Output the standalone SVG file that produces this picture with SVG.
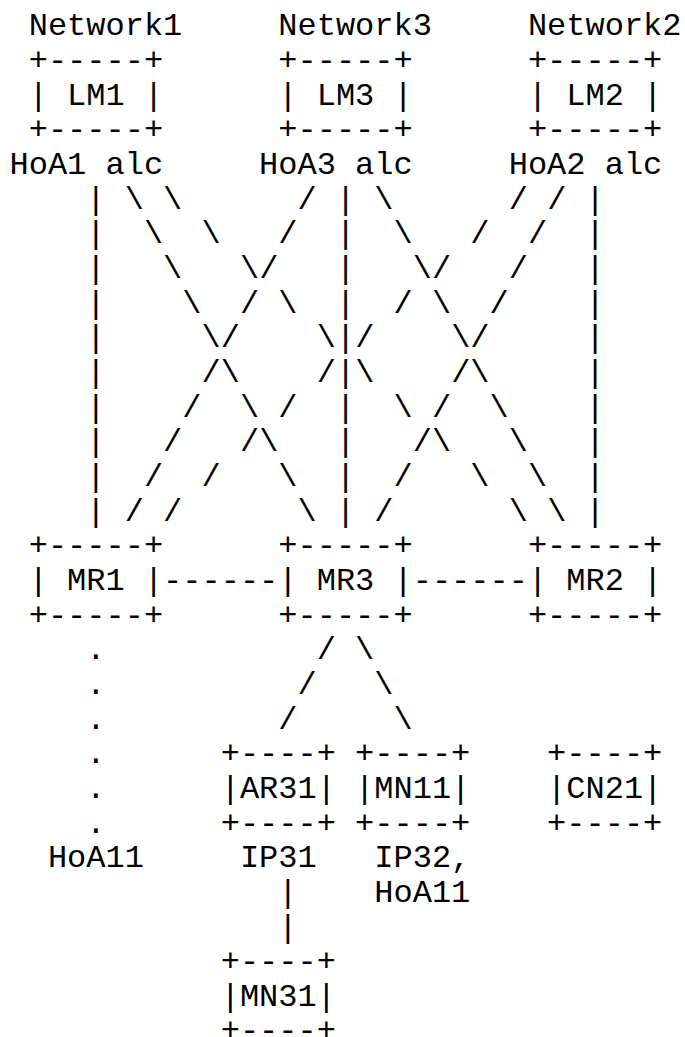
<svg xmlns="http://www.w3.org/2000/svg" width="685" height="1037" viewBox="0 0 685 1037">
<style>
text { font-family: "Liberation Mono", "DejaVu Sans Mono", monospace; font-size: 32px; fill: #000; white-space: pre; }
</style>
<rect x="0" y="0" width="685" height="1037" fill="#fff"/>
<g id="LM1">
<text x="28.7" y="35.3">Network1</text>
<text x="28.7" y="70">+-----+</text>
<text x="28.7" y="104.6" xml:space="preserve">| LM1 |</text>
<text x="28.7" y="139.3">+-----+</text>
<text x="9.5" y="174" xml:space="preserve">HoA1 alc</text>
</g>
<g id="LM3">
<text x="278.3" y="35.3">Network3</text>
<text x="278.3" y="70">+-----+</text>
<text x="278.3" y="104.6" xml:space="preserve">| LM3 |</text>
<text x="278.3" y="139.3">+-----+</text>
<text x="259.1" y="174" xml:space="preserve">HoA3 alc</text>
</g>
<g id="LM2">
<text x="527.9" y="35.3">Network2</text>
<text x="527.9" y="70">+-----+</text>
<text x="527.9" y="104.6" xml:space="preserve">| LM2 |</text>
<text x="527.9" y="139.3">+-----+</text>
<text x="508.7" y="174" xml:space="preserve">HoA2 alc</text>
</g>
<g id="MR1">
<text x="28.7" y="555.4">+-----+</text>
<text x="28.7" y="590" xml:space="preserve">| MR1 |</text>
<text x="28.7" y="624.7">+-----+</text>
</g>
<g id="MR3">
<text x="278.3" y="555.4">+-----+</text>
<text x="278.3" y="590" xml:space="preserve">| MR3 |</text>
<text x="278.3" y="624.7">+-----+</text>
</g>
<g id="MR2">
<text x="527.9" y="555.4">+-----+</text>
<text x="527.9" y="590" xml:space="preserve">| MR2 |</text>
<text x="527.9" y="624.7">+-----+</text>
</g>
<g id="AR31">
<text x="220.7" y="763.4">+----+</text>
<text x="220.7" y="798">|AR31|</text>
<text x="220.7" y="832.7">+----+</text>
<text x="239.9" y="867.4">IP31</text>
</g>
<g id="MN11">
<text x="355.1" y="763.4">+----+</text>
<text x="355.1" y="798">|MN11|</text>
<text x="355.1" y="832.7">+----+</text>
<text x="374.3" y="867.4">IP32,</text>
<text x="374.3" y="902">HoA11</text>
</g>
<g id="CN21">
<text x="547.1" y="763.4">+----+</text>
<text x="547.1" y="798">|CN21|</text>
<text x="547.1" y="832.7">+----+</text>
</g>
<g id="MN31">
<text x="220.7" y="971.4">+----+</text>
<text x="220.7" y="1006">|MN31|</text>
<text x="220.7" y="1039.5">+----+</text>
</g>
<g id="HoA11">
<text x="47.9" y="867.4">HoA11</text>
</g>
<g id="connectors">
<text x="86.3" y="208.7" xml:space="preserve">| \ \      / | \      / / |</text>
<text x="86.3" y="243.3" xml:space="preserve">|  \  \   /  |  \   /  /  |</text>
<text x="86.3" y="278" xml:space="preserve">|   \   \/   |   \/   /   |</text>
<text x="86.3" y="312.7" xml:space="preserve">|    \  / \  |  / \  /    |</text>
<text x="86.3" y="347.3" xml:space="preserve">|     \/    \|/    \/     |</text>
<text x="86.3" y="382" xml:space="preserve">|     /\    /|\    /\     |</text>
<text x="86.3" y="416.7" xml:space="preserve">|    /  \ /  |  \ /  \    |</text>
<text x="86.3" y="451.3" xml:space="preserve">|   /   /\   |   /\   \   |</text>
<text x="86.3" y="486" xml:space="preserve">|  /  /   \  |  /   \  \  |</text>
<text x="86.3" y="520.7" xml:space="preserve">| / /      \ | /      \ \ |</text>
<text x="163.1" y="590">------</text>
<text x="412.7" y="590">------</text>
<text x="316.7" y="659.4">/</text>
<text x="355.1" y="659.4">\</text>
<text x="297.5" y="694">/</text>
<text x="374.3" y="694">\</text>
<text x="278.3" y="728.7">/</text>
<text x="393.5" y="728.7">\</text>
<text x="86.3" y="659.4">.</text>
<text x="86.3" y="694">.</text>
<text x="86.3" y="728.7">.</text>
<text x="86.3" y="763.4">.</text>
<text x="86.3" y="798">.</text>
<text x="86.3" y="832.7">.</text>
<text x="278.3" y="902">|</text>
<text x="278.3" y="936.7">|</text>
</g>
</svg>
